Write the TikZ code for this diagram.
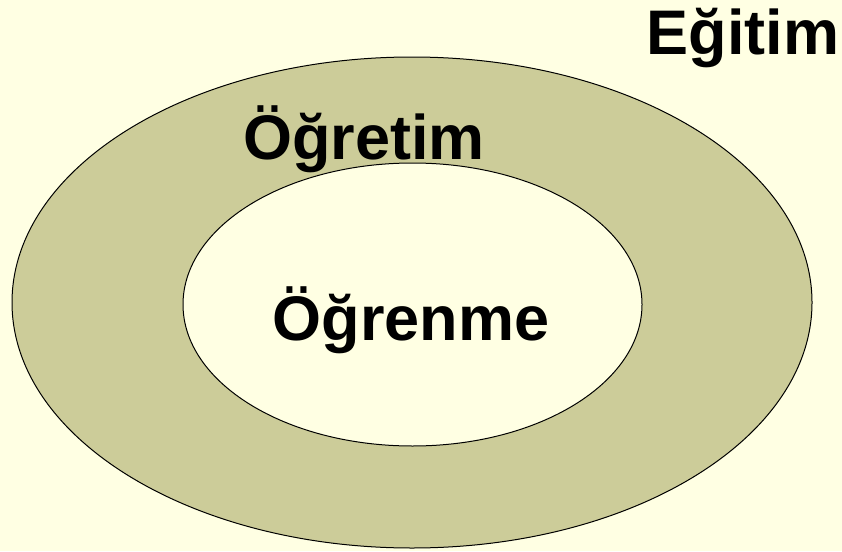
\documentclass[tikz,border=0pt]{standalone}
\usepackage{fontspec}
\setmainfont{Liberation Sans}
\usepackage{xcolor}
\usetikzlibrary{shapes.geometric}
\definecolor{bgyellow}{HTML}{FFFFE3}
\definecolor{ringkhaki}{HTML}{CCCC99}

\begin{document}
\begin{tikzpicture}[x=1pt,y=-1pt,
  ring/.style={ellipse,draw=black,line width=1pt,inner sep=0pt},
  word/.style={anchor=base,inner sep=0pt,font=\fontsize{63}{63}\selectfont\bfseries}]
% Background
\fill[bgyellow] (0,0) rectangle (842,551);
\useasboundingbox (0,0) rectangle (842,551);

% Rings
\node[ring,fill=ringkhaki,minimum width=800pt,minimum height=491pt] (outer) at (412,302.5) {};
\node[ring,fill=bgyellow,minimum width=459pt,minimum height=283pt] (inner) at (412.5,304.5) {};

% Labels
\node[word] (egitim) at (743,55) {Eğitim};
\node[word] (ogretim) at (364,159) {Öğretim};
\node[word] (ogrenme) at (411,340) {Öğrenme};
\end{tikzpicture}
\end{document}
